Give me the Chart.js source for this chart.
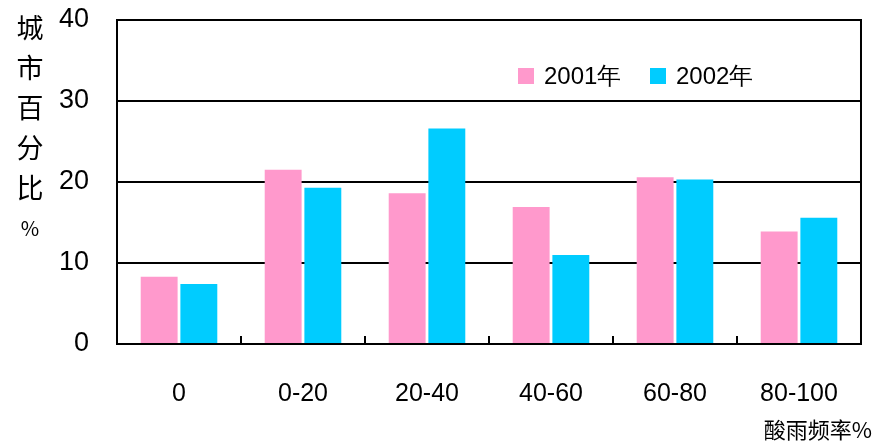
<!DOCTYPE html>
<html>
<head>
<meta charset="utf-8">
<script src="https://cdn.jsdelivr.net/npm/chart.js@4/dist/chart.umd.min.js"></script>
<style>
  html, body { margin: 0; padding: 0; background: #fff; }
  #wrap { width: 874px; height: 446px; }
</style>
</head>
<body>
<div id="wrap"><canvas id="rainChart" width="874" height="446"></canvas></div>
<script>
// categories and values
const categories = ['0', '0-20', '20-40', '40-60', '60-80', '80-100'];
const series2001 = [8.3, 21.5, 18.6, 16.9, 20.6, 13.9];
const series2002 = [7.4, 19.3, 26.6, 11.0, 20.3, 15.6];
const seriesNames = ['2001年', '2002年'];
const seriesColors = ['#FF99CC', '#00CCFF'];
const yTicks = [0, 10, 20, 30, 40];
const yTitle = ['城', '市', '百', '分', '比', '%'];
const xTitle = '酸雨频率%';

const numFont = '"Liberation Sans", Arial, sans-serif';
const cjkFont = '"Noto Sans CJK SC", sans-serif';

// axes frame, inside ticks, titles and legend
const decorations = {
    id: 'decorations',
    afterDatasetsDraw(chart) {
        const ctx = chart.ctx;
        const a = chart.chartArea;
        const xs = chart.scales.x;
        ctx.save();
        ctx.strokeStyle = '#000';
        ctx.lineWidth = 2;
        ctx.strokeRect(a.left, a.top, a.right - a.left, a.bottom - a.top);

        // small tick marks between categories, pointing up
        ctx.beginPath();
        for (let i = 1; i < categories.length; i++) {
            const x = Math.round((xs.getPixelForValue(i - 1) + xs.getPixelForValue(i)) / 2);
            ctx.moveTo(x, a.bottom);
            ctx.lineTo(x, a.bottom - 8);
        }
        ctx.stroke();

        // vertical y title
        ctx.fillStyle = '#000';
        ctx.textAlign = 'center';
        ctx.textBaseline = 'middle';
        yTitle.forEach((ch, i) => {
            ctx.font = (ch === '%' ? '20px ' : '27px ') + cjkFont;
            ctx.fillText(ch, 30, 28 + i * 40);
        });

        // x title bottom right
        ctx.font = '22px ' + cjkFont;
        ctx.textAlign = 'right';
        ctx.fillText(xTitle, 872, 430);

        // legend inside the plot
        const items = [{ x: 518, text: seriesNames[0] }, { x: 650, text: seriesNames[1] }];
        ctx.font = '24px ' + numFont;
        ctx.textAlign = 'left';
        items.forEach((it, i) => {
            ctx.fillStyle = seriesColors[i];
            ctx.fillRect(it.x, 68, 16, 16);
            ctx.fillStyle = '#000';
            ctx.fillText(it.text, it.x + 26, 77);
        });
        ctx.restore();
    }
};

new Chart(document.getElementById('rainChart').getContext('2d'), {
    type: 'bar',
    data: {
        labels: categories,
        datasets: [
            { label: seriesNames[0], data: series2001, backgroundColor: seriesColors[0] },
            { label: seriesNames[1], data: series2002, backgroundColor: seriesColors[1] }
        ]
    },
    options: {
        responsive: false,
        animation: false,
        devicePixelRatio: 1,
        layout: { padding: { top: 0, right: 13, left: 0, bottom: 0 } },
        datasets: { bar: { categoryPercentage: 0.64, barPercentage: 0.93 } },
        plugins: {
            legend: { display: false },
            tooltip: { enabled: false }
        },
        scales: {
            x: {
                grid: { display: false, drawTicks: false },
                border: { display: false },
                ticks: { color: '#000', font: { family: numFont, size: 25 }, padding: 35 },
                afterFit(scale) { scale.height = 102; }
            },
            y: {
                min: 0,
                max: 40,
                afterBuildTicks(scale) { scale.ticks = yTicks.map(v => ({ value: v })); },
                grid: { color: '#000', lineWidth: 2, drawTicks: false },
                border: { display: false },
                ticks: { color: '#000', font: { family: numFont, size: 27 }, padding: 28 },
                afterFit(scale) {
                    scale.width = 117;
                    scale.paddingTop = 20;
                    scale.paddingBottom = 0;
                }
            }
        }
    },
    plugins: [decorations]
});
</script>
</body>
</html>
